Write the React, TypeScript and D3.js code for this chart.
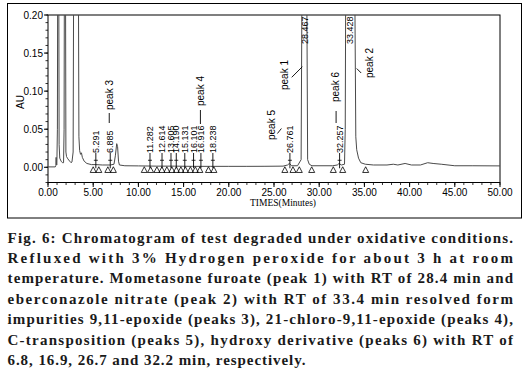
import React from 'react';
import * as d3 from 'd3';

// ---- data ----
const traceTime = [0, 0.8, 0.87, 0.9, 0.93, 0.98, 1.04, 1.08, 1.18, 1.23, 1.3, 1.45, 1.6, 1.72, 1.78, 1.82, 1.93, 1.98, 2.05, 2.2, 2.4, 2.55, 2.65, 2.78, 2.85, 3.35, 3.42, 3.5, 3.6, 3.7, 3.8, 4.0, 4.3, 4.8, 5.3, 6.0, 6.9, 7.3, 7.45, 7.6, 7.7, 7.8, 7.9, 8.5, 10, 12, 14, 16, 18, 20, 22, 24, 26, 26.5, 26.7, 26.95, 27.6, 28.0, 28.12, 28.6, 28.72, 28.9, 29.2, 31.5, 32.0, 32.2, 32.45, 32.8, 32.88, 32.95, 33.9, 34.05, 34.15, 34.35, 34.6, 35.1, 36, 37.5, 38.2, 38.7, 39.5, 40.2, 41.2, 42.0, 42.6, 43.5, 45, 47, 50];
const traceAU = [0.0005, 0.0005, 0.002, 0.013, 0.004, 0.003, 0.05, 0.3, 0.3, 0.03, 0.012, 0.008, 0.006, 0.006, 0.05, 0.3, 0.3, 0.02, 0.014, 0.011, 0.008, 0.006, 0.007, 0.02, 0.3, 0.3, 0.04, 0.022, 0.017, 0.019, 0.013, 0.008, 0.005, 0.0035, 0.0035, 0.003, 0.003, 0.004, 0.015, 0.031, 0.027, 0.008, 0.003, 0.002, 0.0018, 0.0015, 0.0015, 0.0012, 0.0012, 0.0012, 0.0012, 0.0013, 0.0015, 0.003, 0.005, 0.002, 0.002, 0.01, 0.3, 0.3, 0.01, 0.004, 0.002, 0.002, 0.003, 0.005, 0.003, 0.004, 0.05, 0.3, 0.3, 0.04, 0.023, 0.012, 0.006, 0.004, 0.003, 0.003, 0.004, 0.003, 0.005, 0.003, 0.003, 0.006, 0.005, 0.004, 0.002, 0.002, 0.0018];

const rtLabels = ['5.291', '6.885', '11.282', '12.614', '13.605', '14.190', '15.131', '16.101', '16.916', '18.238', '26.761', '28.467', '32.257', '33.428'];
const offScaleLabels = ['28.467', '33.428'];

const peakNames = ['peak 1', 'peak 2', 'peak 3', 'peak 4', 'peak 5', 'peak 6'];
const peakNameRT = [28.467, 33.428, 6.885, 16.916, 26.761, 32.257];

const markerTimes = [5.0, 5.62, 6.62, 7.23, 10.65, 11.35, 12.05, 12.6, 13.15, 13.7, 14.2, 14.7, 15.2, 15.75, 16.3, 16.8, 17.75, 18.35, 26.2, 27.1, 27.8, 29.17, 31.56, 32.6, 35.14];

const xMajorTicks = [0, 5, 10, 15, 20, 25, 30, 35, 40, 45, 50];
const yMajorTicks = [0, 0.05, 0.1, 0.15, 0.2];

const xTitle = 'TIMES(Minutes)';
const yTitle = 'AU';

const captionLines = [
  'Fig. 6: Chromatogram of test degraded under oxidative conditions.',
  'Refluxed with 3% Hydrogen peroxide for about 3 h at room',
  'temperature. Mometasone furoate (peak 1) with RT of 28.4 min and',
  'eberconazole nitrate (peak 2) with RT of 33.4 min resolved form',
  'impurities 9,11-epoxide (peaks 3), 21-chloro-9,11-epoxide (peaks 4),',
  'C-transposition (peaks 5), hydroxy derivative (peaks 6) with RT of',
  '6.8, 16.9, 26.7 and 32.2 min, respectively.',
];

// ---- layout (pixels) ----
const PLOT = { left: 48, right: 500, top: 15, bottom: 182.5 };
const NAME_LAYOUT: Record<string, { dx: number; y: number; line: [number, number, number, number] }> = {
  'peak 3': { dx: -1, y: 110, line: [-1, 113, -1, 123] },
  'peak 4': { dx: -0.5, y: 106, line: [-0.5, 110, -0.5, 124] },
  'peak 6': { dx: -4, y: 102, line: [-3.5, 111, -3.5, 123] },
  'peak 5': { dx: -18.5, y: 140, line: [-12.5, 133.5, -8.5, 128.5] },
  'peak 1': { dx: -21, y: 90, line: [-13.6, 77.3, -3, 66.7] },
  'peak 2': { dx: 19.5, y: 78, line: [6.5, 68.5, 11, 73] },
};

export default function App() {
  const x = d3.scaleLinear().domain([0, 50]).range([PLOT.left, PLOT.right]);
  const y = d3.scaleLinear().domain([-0.02, 0.2]).range([PLOT.bottom, PLOT.top]);

  const pts: [number, number][] = traceTime.map((t, i) => [t, traceAU[i]]);
  const line = d3
    .line<[number, number]>()
    .x((d) => x(d[0]))
    .y((d) => y(d[1]));

  const xMinor = d3.range(0, 51, 1);
  const yMinor = d3.range(-2, 21, 1).map((v) => v / 100);
  const y0 = y(0);
  const sans = 'Liberation Sans, Arial, sans-serif';
  const serif = 'Liberation Serif, Times New Roman, serif';

  return (
    <svg
      width={530}
      height={373}
      style={{ position: 'absolute', left: 0, top: 0, background: '#fff' }}
    >
      <rect x={0} y={0} width={530} height={373} fill="#fff" />
      <defs>
        <clipPath id="plotClip">
          <rect x={PLOT.left} y={PLOT.top} width={PLOT.right - PLOT.left} height={PLOT.bottom - PLOT.top} />
        </clipPath>
      </defs>
      {/* outer frame */}
      <rect x={7.5} y={3.5} width={514} height={214.5} fill="none" stroke="#000" strokeWidth={1} />

      {/* plot frame */}
      <rect
        x={PLOT.left}
        y={PLOT.top}
        width={PLOT.right - PLOT.left}
        height={PLOT.bottom - PLOT.top}
        fill="none"
        stroke="#000"
        strokeWidth={1}
      />

      {/* y ticks */}
      {yMinor.map((v, i) => (
        <line key={'ym' + i} x1={PLOT.left - 2.5} x2={PLOT.left} y1={y(v)} y2={y(v)} stroke="#000" strokeWidth={0.8} />
      ))}
      {yMajorTicks.map((v, i) => (
        <g key={'yM' + i}>
          <line x1={PLOT.left - 4} x2={PLOT.left} y1={y(v)} y2={y(v)} stroke="#000" strokeWidth={1} />
          <text x={PLOT.left - 5} y={y(v)} textAnchor="end" dominantBaseline="central" fontFamily={sans} fontSize={10}>
            {d3.format('.2f')(v)}
          </text>
        </g>
      ))}
      <text
        transform={`translate(20.5,102) rotate(-90)`}
        textAnchor="middle"
        dominantBaseline="central"
        fontFamily={sans}
        fontSize={10}
      >
        {yTitle}
      </text>

      {/* x ticks */}
      {xMinor.map((v, i) => (
        <line key={'xm' + i} x1={x(v)} x2={x(v)} y1={PLOT.bottom} y2={PLOT.bottom + 2.5} stroke="#000" strokeWidth={0.8} />
      ))}
      {xMajorTicks.map((v, i) => (
        <g key={'xM' + i}>
          <line x1={x(v)} x2={x(v)} y1={PLOT.bottom} y2={PLOT.bottom + 4.5} stroke="#000" strokeWidth={1} />
          <text x={x(v)} y={196} textAnchor="middle" fontFamily={sans} fontSize={10}>
            {d3.format('.2f')(v)}
          </text>
        </g>
      ))}
      <text x={283} y={206} textAnchor="middle" fontFamily={serif} fontSize={9.5} textLength={66} lengthAdjust="spacingAndGlyphs">
        {xTitle}
      </text>

      {/* trace */}
      <g clipPath="url(#plotClip)">
        <path d={line(pts) || ''} fill="none" stroke="#4a4a4a" strokeWidth={1} />
      </g>

      {/* integration markers */}
      {markerTimes.map((t, i) => {
        const cx = x(t);
        return (
          <path
            key={'mk' + i}
            d={`M${cx - 3},${y0 + 5.2} L${cx},${y0 - 0.5} L${cx + 3},${y0 + 5.2} Z`}
            fill="none"
            stroke="#000"
            strokeWidth={0.8}
          />
        );
      })}

      {/* retention time labels */}
      {rtLabels.map((lab) => {
        const rt = Number(lab);
        const lx = x(rt);
        const top = offScaleLabels.includes(lab);
        const ty = top ? 44 : 153;
        return (
          <g key={'rt' + lab}>
            {!top && <line x1={lx} x2={lx} y1={y0 + 1} y2={ty} stroke="#000" strokeWidth={0.9} />}
            {!top && <line x1={lx - 2} x2={lx + 2} y1={y0 - 7} y2={y0 - 7} stroke="#000" strokeWidth={0.8} />}
            <text
              transform={`translate(${lx},${ty}) rotate(-90)`}
              textAnchor="start"
              dominantBaseline="central"
              fontFamily={sans}
              fontSize={9}
            >
              {lab}
            </text>
          </g>
        );
      })}

      {/* peak names */}
      {peakNames.map((name, i) => {
        const lx = x(peakNameRT[i]);
        const L = NAME_LAYOUT[name];
        return (
          <g key={name}>
            <line x1={lx + L.line[0]} y1={L.line[1]} x2={lx + L.line[2]} y2={L.line[3]} stroke="#000" strokeWidth={0.9} />
            <text
              transform={`translate(${lx + L.dx},${L.y}) rotate(-90)`}
              textAnchor="start"
              dominantBaseline="central"
              fontFamily={sans}
              fontSize={10}
            >
              {name}
            </text>
          </g>
        );
      })}

      {/* caption */}
      {captionLines.map((s, i) => {
        const last = i === captionLines.length - 1;
        return (
          <text
            key={'cap' + i}
            x={7.5}
            y={242.5 + i * 20.4}
            fontFamily={serif}
            fontWeight="bold"
            fontSize={15}
            fill="#1a1a1a"
            textLength={last ? 298 : 505.5}
            lengthAdjust="spacing"
          >
            {s}
          </text>
        );
      })}
    </svg>
  );
}
